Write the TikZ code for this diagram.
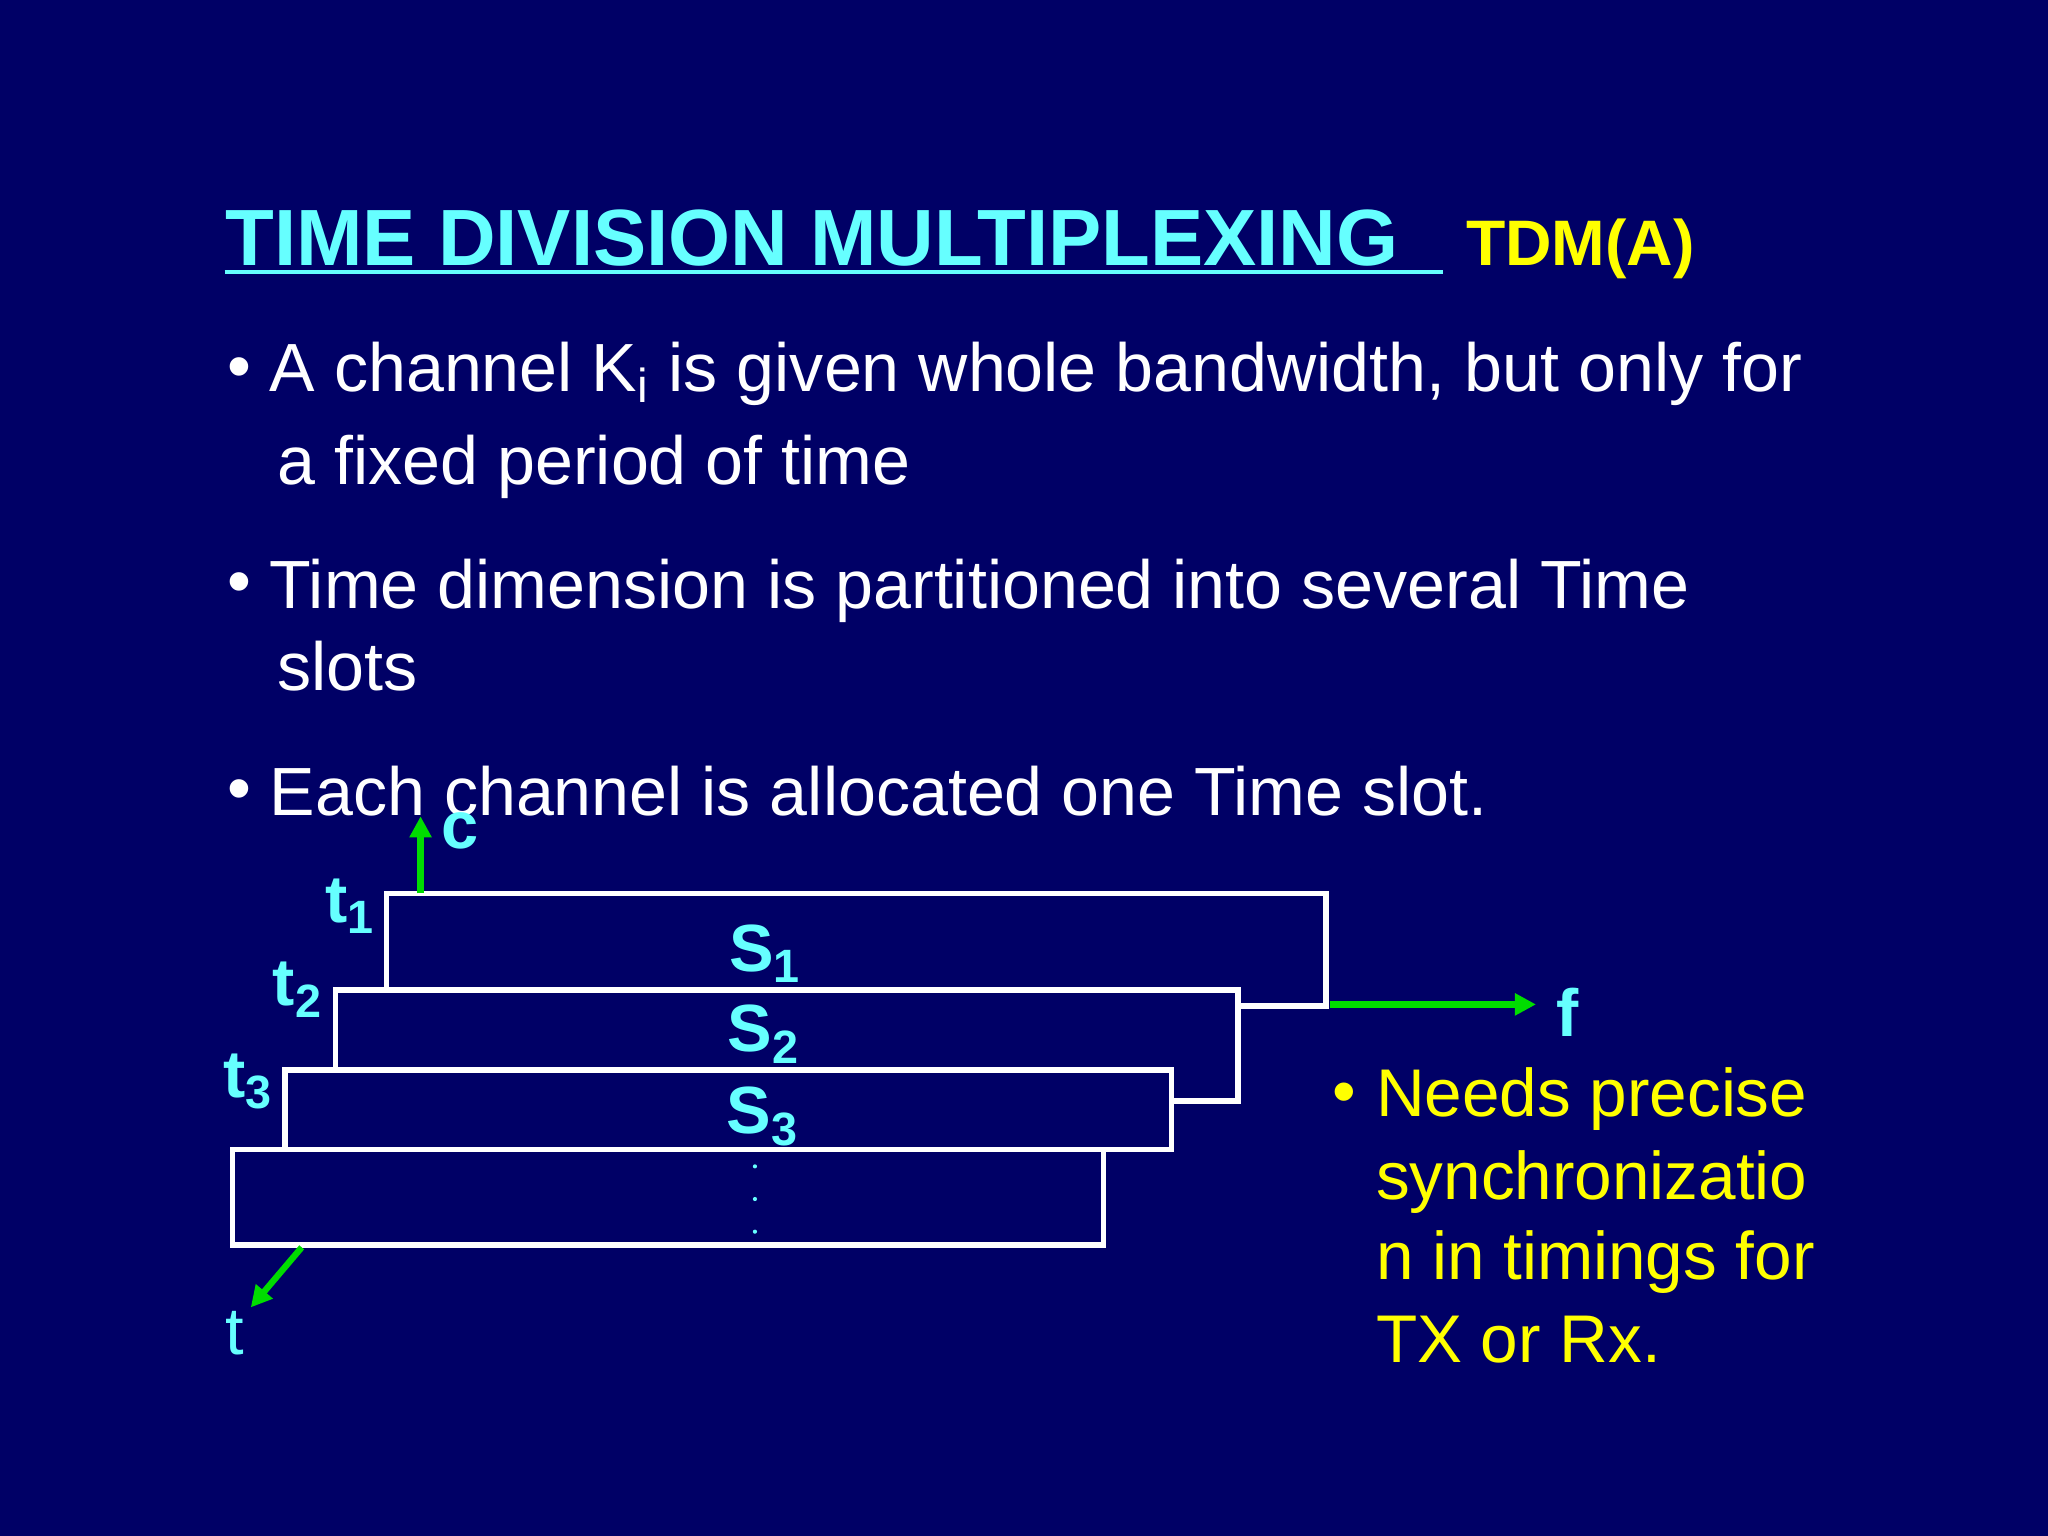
\documentclass[tikz,border=0pt]{standalone}
\usepackage{fontspec}
\setmainfont{Liberation Sans}
\definecolor{bg}{HTML}{000066}
\definecolor{cy}{HTML}{66FFFF}
\definecolor{yl}{HTML}{FFFF00}
\definecolor{gr}{HTML}{00DD00}
\usetikzlibrary{arrows.meta}
\tikzset{
  body/.style={anchor=base west,text=white,font=\fontsize{19.4}{23}\selectfont,inner sep=0pt},
  ybody/.style={anchor=base west,text=yl,font=\fontsize{19.2}{23}\selectfont,inner sep=0pt},
  lab/.style={text=cy,font=\bfseries\fontsize{19}{23}\selectfont,inner sep=0pt},
  slot/.style={draw=white,line width=1.6pt,fill=bg},
  axis/.style={draw=gr,line width=1.8pt,-{Triangle[length=6pt,width=6pt]}}
}
\begin{document}
\begin{tikzpicture}[x=0.01306cm,y=-0.01306cm]
\fill[bg] (0,0) rectangle (1568,1176);
\useasboundingbox (0,0) rectangle (1568,1176);
% title
\node[anchor=base west,inner sep=0pt,text=cy,font=\bfseries\fontsize{22.7}{27}\selectfont] (title) at (172,203) {TIME DIVISION MULTIPLEXING};
\draw[cy,line width=1.2pt] (172,208) -- (1105,208);
\node[anchor=base west,inner sep=0pt,text=yl,font=\bfseries\fontsize{18.3}{22}\selectfont] (tdm) at (1122,203) {TDM(A)};
% bullets
\node[body] (b1) at (174,298) {•};
\node[body] (l1) at (206,300) {A channel K\textsubscript{i} is given whole bandwidth, but only for};
\node[body] (l1b) at (212,371) {a fixed period of time};
\node[body] (b2) at (174,463) {•};
\node[body] (l2) at (206,466) {Time dimension is partitioned into several Time};
\node[body] (l2b) at (212,529) {slots};
\node[body] (b3) at (174,621) {•};
\node[body] (l3) at (206,624) {Each channel is allocated one Time slot.};
% slots
\draw[slot] (296,684) rectangle (1015,770);
\draw[slot] (257,758) rectangle (948,843);
\draw[slot] (218,819) rectangle (897,880);
\draw[slot] (178,880) rectangle (845,953);
\coordinate (cO) at (322,684); \coordinate (cE) at (322,625);
\coordinate (fO) at (1018,769); \coordinate (fE) at (1176,769);
\coordinate (tO) at (231,955); \coordinate (tE) at (192,1001);
\draw[axis] (cO) -- (cE);
\draw[axis] (fO) -- (fE);
\draw[axis] (tO) -- (tE);
\node[lab] (c) at (352,636) {c};
\node[lab] (f) at (1200,775) {f};
\node[text=cy,font=\fontsize{19}{23}\selectfont,inner sep=0pt] (t) at (180,1021) {t};
\node[lab] (t1) at (268,694) {t\textsubscript{1}};
\node[lab] (t2) at (228,758) {t\textsubscript{2}};
\node[lab] (t3) at (190,828) {t\textsubscript{3}};
\node[lab] (s1) at (586,730) {S\textsubscript{1}};
\node[lab] (s2) at (585,792) {S\textsubscript{2}};
\node[lab] (s3) at (584,855) {S\textsubscript{3}};
\foreach \yy in {893,918,943} \fill[cy] (578,\yy) circle (1.6);
% yellow bullet
\node[ybody] (yb) at (1020,853) {•};
\node[ybody] (y1) at (1053,855) {Needs precise};
\node[ybody] (y2) at (1053,918) {synchronizatio};
\node[ybody] (y3) at (1053,980) {n in timings for};
\node[ybody] (y4) at (1053,1043) {TX or Rx.};
\end{tikzpicture}
\end{document}
